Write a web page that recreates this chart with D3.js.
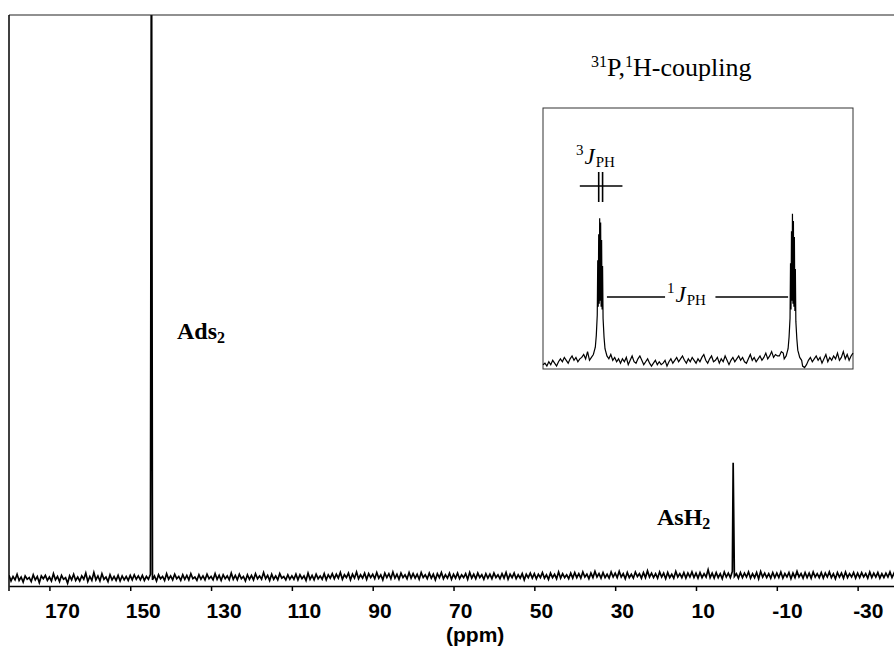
<!DOCTYPE html>
<html>
<head>
<meta charset="utf-8">
<script src="https://cdn.jsdelivr.net/npm/d3@7"></script>
<style>
    body { margin: 0; background: #fff; }
    .serif { font-family: "Liberation Serif", "Times New Roman", serif; }
    .sans { font-family: "Liberation Sans", Arial, sans-serif; }
</style>
</head>
<body>
<svg id="chart" width="894" height="653"></svg>
<script>
// main 31P spectrum, ppm axis
const mainTicks = [170, 150, 130, 110, 90, 70, 50, 30, 10, -10, -30];
const noiseStartPpm = 180;
const noiseStepPpm = 0.5;
// baseline, one value every 0.5 ppm from 180 ppm down
const baselineNoise = [
    -0.1, -1.1, -0.3, -0.9, 0.1, -1.0, -0.4, -1.3, -0.2, -0.8, -0.5, -1.2, 0.0, -0.9, -0.3, -1.4, -0.2, -0.7, -0.1, -1.0,
    -0.4, -1.1, 0.2, -0.9, -0.3, -1.2, -0.1, -0.8, -0.5, -1.5, -0.2, -0.9, 0.1, -1.0, -0.4, -1.1, -0.2, -0.8, 0.3, -1.2,
    -0.3, -1.0, 0.4, -0.9, -0.2, -1.1, 0.2, -0.8, -0.4, -1.2, 0.0, -0.9, -0.3, -1.0, -0.1, -1.1, -0.2, -0.9, -0.3, -1.0,
    -0.1, -0.9, 0.0, -0.8, -0.2, -0.9, -0.1, -1.0, -0.3, -0.8, 0.1, -0.9, -0.2, -1.1, 0.0, -0.7, -0.3, -1.0, 0.2, -0.8,
    -0.2, -0.9, 0.1, -0.7, -0.3, -1.0, 0.0, -0.8, -0.1, -0.9, 0.2, -0.7, -0.4, -1.0, 0.0, -0.8, -0.2, -0.9, 0.1, -0.7,
    -0.3, -0.9, 0.2, -0.8, -0.1, -1.0, 0.0, -0.7, -0.2, -0.9, 0.3, -0.8, -0.1, -0.9, 0.1, -0.7, -0.3, -1.1, 0.0, -0.8,
    -0.1, -0.9, 0.2, -0.7, -0.2, -0.8, 0.4, -0.7, -0.1, -1.0, 0.1, -0.8, -0.2, -0.9, 0.2, -0.6, -0.3, -0.9, 0.0, -0.8,
    -0.2, -0.8, 0.1, -0.9, 0.0, -0.7, -0.2, -1.0, 0.3, -0.8, -0.1, -0.9, 0.1, -0.7, -0.2, -0.8, 0.2, -0.9, 0.0, -0.6,
    0.2, -0.7, 0.1, -0.6, 0.4, -0.8, 0.0, -0.5, 0.3, -0.9, 0.1, -0.6, 0.5, -0.7, 0.0, -0.6, 0.3, -0.8, 0.2, -0.5,
    0.1, -0.7, 0.4, -0.6, 0.0, -0.9, 0.3, -0.5, 0.2, -0.7, 0.5, -0.6, 0.1, -0.8, 0.3, -0.5, 0.0, -0.7, 0.4, -0.6,
    0.2, -0.6, 0.1, -0.8, 0.4, -0.5, 0.0, -0.7, 0.3, -0.6, 0.1, -0.9, 0.2, -0.5, 0.4, -0.7, 0.0, -0.6, 0.3, -0.8,
    0.1, -0.6, 0.3, -0.7, 0.0, -0.5, 0.2, -0.8, 0.4, -0.6, 0.1, -0.7, 0.3, -0.5, 0.0, -0.8, 0.2, -0.6, 0.1, -0.7,
    0.3, -0.5, 0.0, -0.7, 0.2, -0.6, 0.4, -0.8, 0.1, -0.5, 0.3, -0.7, 0.0, -0.6, 0.2, -0.9, 0.1, -0.5, 0.3, -0.6,
    0.2, -0.7, 0.1, -0.5, 0.4, -0.6, 0.0, -0.8, 0.3, -0.5, 0.1, -0.7, 0.5, -0.6, 0.2, -0.5, 0.0, -0.7, 0.3, -0.6,
    0.4, -0.5, 0.2, -0.6, 0.5, -0.4, 0.1, -0.7, 0.3, -0.5, 0.6, -0.4, 0.2, -0.6, 0.4, -0.5, 0.1, -0.6, 0.5, -0.4,
    0.3, -0.5, 0.6, -0.4, 0.2, -0.7, 0.4, -0.5, 0.1, -0.6, 0.5, -0.3, 0.2, -0.6, 0.4, -0.5, 0.7, -0.4, 0.3, -0.5,
    0.2, -0.6, 0.5, -0.4, 0.3, -0.7, 0.4, -0.5, 0.1, -0.6, 0.6, -0.4, 0.2, -0.5, 0.4, -0.6, 0.3, -0.4, 0.5, -0.5,
    0.3, -0.6, 0.4, -0.5, 0.2, -0.4, 0.9, -0.5, 0.3, -0.6, 0.4, -0.5, 0.2, -0.7, 0.5, -0.4, 0.3, -0.5, 0.6, -0.3,
    0.2, -0.6, 0.4, -0.5, 0.3, -0.4, 0.5, -0.6, 0.2, -0.5, 0.4, -0.7, 0.6, -0.4, 0.3, -0.5, 0.2, -0.6, 0.4, -0.5,
    0.3, -0.5, 0.5, -0.6, 0.2, -0.4, 0.4, -0.7, 0.3, -0.5, 0.6, -0.4, 0.2, -0.6, 0.4, -0.5, 0.3, -0.6, 0.5, -0.4,
    0.2, -0.5, 0.4, -0.6, 0.3, -0.4, 0.5, -0.5, 0.2, -0.7, 0.4, -0.4, 0.3, -0.6, 0.5, -0.5, 0.2, -0.4, 0.4, -0.6,
    0.3, -0.5, 0.4, -0.4, 0.2, -0.6, 0.5, -0.5, 0.3, -0.4, 0.4, -0.6, 0.2, -0.5, 0.3, -0.4, 0.5, -0.5, 0.3, -0.4
];
const peakPpm = [144.75, 0.8];
const peakHeight = [130, 20];   // Ads2 runs off the top of the plot
const peakNames = ['Ads', 'AsH'];

// inset: coupled signal, Hz offset from the centre
const insetHzStart = -160;
const insetHzStep = 2;
const insetNoise = [
    -2, -1, -3, 0, -2, 1, -1, -3, 0, 2,
    0, 3, 1, -1, 2, 4, 1, 3, 0, 2,
    3, 5, 2, 7, 1, 4, 5, 6, 8, 9,
    9, 8, 6, 4, 2, 5, 1, 3, 0, 2,
    -1, 2, 0, 3, -2, 1, 4, 0, -1, 2,
    4, 1, -2, 0, 2, -1, -3, -1, 1, -2,
    0, -2, -1, 1, -3, 0, 2, -1, 1, 3,
    0, 2, 4, 1, -1, 2, 0, 3, 1, -1,
    2, 0, 3, 5, 1, -1, 2, 4, 0, 1,
    3, -1, 2, 0, 4, 1, -2, 1, 3, 0,
    2, 4, 1, 3, 0, -1, 2, 5, 1, 3,
    0, 2, 4, 1, 3, 6, 2, 4, 7, 3,
    5, 4, 4, 7, 6, 9, 9, 9, 9, 9,
    9, 9, 9, 9, -3, -4, -2, 1, 3, 0,
    2, 4, 1, 3, -1, 2, 5, 0, 3, 1,
    4, 2, 6, 1, 3, 7, 2, 5, 1, 4,
    6
];
const insetPeakHz = [-101, 98];
const multOffsetHz = [-9, -7, -5, -4, -3, -2.5, -2, -1.5, -1, -0.5, 0, 0.5, 1, 1.5, 2, 2.5, 3, 4, 5, 7, 9];
const leftMultiplet = [3, 5, 10, 18, 32, 70, 38, 88, 40, 99, 42, 96, 38, 84, 36, 66, 30, 17, 9, 4, 2];
const rightMultiplet = [2, 4, 9, 17, 30, 68, 36, 90, 42, 102, 40, 97, 38, 86, 35, 64, 28, 16, 8, 3, 1];

const svg = d3.select('#chart');
const plot = { left: 9, right: 894, top: 15, bottom: 586 };

const x = d3.scaleLinear().domain([180, -39]).range([plot.left, plot.right]);
const y = d3.scaleLinear().domain([-2, 100]).range([plot.bottom, plot.top]);

svg.append('rect').attr('width', 894).attr('height', 653).attr('fill', '#fff');

svg.append('defs').append('clipPath')
    .attr('id', 'plot-clip')
    .append('rect')
    .attr('x', plot.left)
    .attr('y', plot.top)
    .attr('width', plot.right - plot.left)
    .attr('height', plot.bottom - plot.top);

// spectrum points
const mainPoints = baselineNoise.map((v, i) => [noiseStartPpm - i * noiseStepPpm, v]);
peakPpm.forEach((p, i) => mainPoints.push([p, peakHeight[i]]));
mainPoints.sort((a, b) => b[0] - a[0]);

const mainLine = d3.line()
    .x(d => x(d[0]))
    .y(d => y(d[1]));

svg.append('path')
    .datum(mainPoints)
    .attr('clip-path', 'url(#plot-clip)')
    .attr('fill', 'none')
    .attr('stroke', '#000')
    .attr('stroke-width', 1.7)
    .attr('stroke-linejoin', 'miter')
    .attr('d', mainLine);

// frame
svg.append('line')
    .attr('x1', plot.left).attr('x2', plot.right)
    .attr('y1', plot.top).attr('y2', plot.top)
    .attr('stroke', '#222').attr('stroke-width', 1.2);
svg.append('line')
    .attr('x1', plot.left).attr('x2', plot.left)
    .attr('y1', plot.top).attr('y2', plot.bottom + 5)
    .attr('stroke', '#000').attr('stroke-width', 1.5);

// x axis
const xAxis = svg.append('g')
    .attr('transform', `translate(0, ${plot.bottom})`)
    .call(d3.axisBottom(x)
        .tickValues(mainTicks)
        .tickSize(5)
        .tickSizeOuter(0)
        .tickFormat(d => String(d)));

xAxis.select('.domain').attr('stroke', '#000').attr('stroke-width', 1.5);
xAxis.selectAll('.tick line').attr('stroke', '#000').attr('stroke-width', 1.5);
xAxis.selectAll('.tick text')
    .attr('class', 'sans')
    .attr('x', -5)
    .attr('y', 32)
    .attr('dy', 0)
    .attr('text-anchor', 'start')
    .attr('fill', '#000')
    .style('font-size', '21px')
    .style('font-weight', 'bold');

svg.append('text')
    .attr('class', 'sans')
    .attr('x', 446)
    .attr('y', 642)
    .style('font-size', '21px')
    .style('font-weight', 'bold')
    .text('(ppm)');

// peak labels
const labelPos = [[177, 339], [657, 525]];
peakNames.forEach((name, i) => {
    const t = svg.append('text')
        .attr('class', 'serif')
        .attr('x', labelPos[i][0])
        .attr('y', labelPos[i][1])
        .style('font-size', '24px')
        .style('font-weight', 'bold');
    t.append('tspan').text(name);
    t.append('tspan').attr('dy', 4).style('font-size', '16px').text('2');
});

// inset
const inset = { left: 543, right: 853, top: 108, bottom: 369 };
const xIn = d3.scaleLinear().domain([-160, 160]).range([inset.left, inset.right]);
const yIn = d3.scaleLinear().domain([-5, 175]).range([inset.bottom, inset.top]);

const title = svg.append('text')
    .attr('class', 'serif')
    .attr('x', 591)
    .attr('y', 76)
    .style('font-size', '26px');
title.append('tspan').attr('dy', -9).style('font-size', '16px').text('31');
title.append('tspan').attr('dy', 9).text('P,');
title.append('tspan').attr('dy', -9).style('font-size', '16px').text('1');
title.append('tspan').attr('dy', 9).text('H-coupling');

svg.append('rect')
    .attr('x', inset.left)
    .attr('y', inset.top)
    .attr('width', inset.right - inset.left)
    .attr('height', inset.bottom - inset.top)
    .attr('fill', 'none')
    .attr('stroke', '#333')
    .attr('stroke-width', 1);

const insetPoints = [];
insetNoise.forEach((v, i) => {
    const hz = insetHzStart + i * insetHzStep;
    const nearPeak = insetPeakHz.some(c => Math.abs(hz - c) < 10);
    if (!nearPeak) insetPoints.push([hz, v]);
});
[leftMultiplet, rightMultiplet].forEach((mult, k) => {
    mult.forEach((v, i) => insetPoints.push([insetPeakHz[k] + multOffsetHz[i], v]));
});
insetPoints.sort((a, b) => a[0] - b[0]);

svg.append('path')
    .datum(insetPoints)
    .attr('fill', 'none')
    .attr('stroke', '#000')
    .attr('stroke-width', 1.2)
    .attr('d', d3.line().x(d => xIn(d[0])).y(d => yIn(d[1])));

// coupling annotations
const ann = svg.append('g').attr('stroke', '#000').attr('stroke-width', 1.3);
const l3y = 186;
ann.append('line')
    .attr('x1', xIn(insetPeakHz[0] - 21)).attr('x2', xIn(insetPeakHz[0] + 23))
    .attr('y1', l3y).attr('y2', l3y);
[-1.5, 2.5].forEach(off => {
    ann.append('line')
        .attr('x1', xIn(insetPeakHz[0] + off)).attr('x2', xIn(insetPeakHz[0] + off))
        .attr('y1', l3y - 14).attr('y2', l3y + 16)
        .attr('stroke-width', 1.6);
});

const l1y = 297;
ann.append('line')
    .attr('x1', xIn(insetPeakHz[0] + 7)).attr('x2', xIn(-34))
    .attr('y1', l1y).attr('y2', l1y);
ann.append('line')
    .attr('x1', xIn(18)).attr('x2', xIn(insetPeakHz[1] - 5))
    .attr('y1', l1y).attr('y2', l1y);

function jLabel(xPos, yPos, order) {
    const t = svg.append('text')
        .attr('class', 'serif')
        .attr('x', xPos)
        .attr('y', yPos)
        .style('font-size', '23px');
    t.append('tspan').attr('dy', -9).style('font-size', '15px').text(order);
    t.append('tspan').attr('dy', 9).attr('dx', 1).style('font-style', 'italic').text('J');
    t.append('tspan').attr('dy', 3).attr('dx', 1).style('font-size', '15px').text('PH');
}
jLabel(576, 164, '3');
jLabel(667, 302, '1');
</script>
</body>
</html>
